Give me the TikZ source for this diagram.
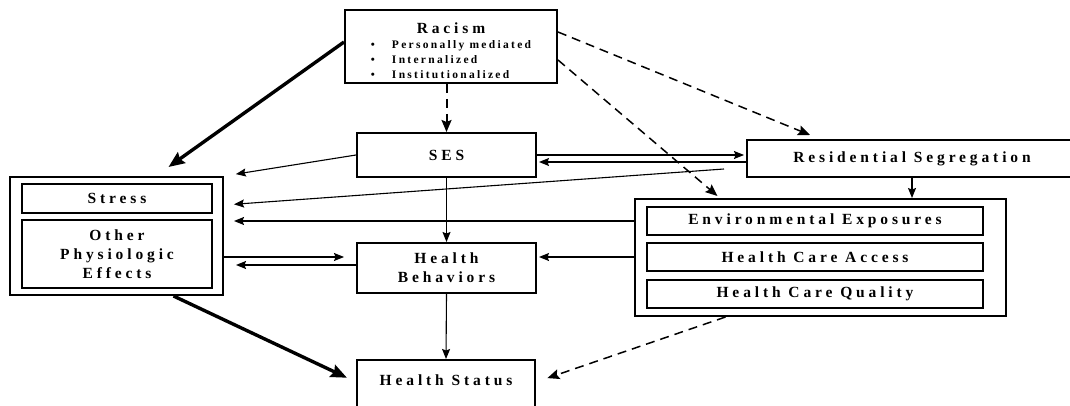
\documentclass[tikz,border=0pt]{standalone}
\usepackage{fontspec}
\setmainfont{Liberation Serif}
\newfontfamily\wide[LetterSpace=25]{Liberation Serif}
\newfontfamily\smallwide[LetterSpace=20]{Liberation Serif}
\usetikzlibrary{arrows.meta}

\begin{document}
\begin{tikzpicture}[x=1pt,y=-1pt,
	lbl/.style={font=\wide\bfseries\fontsize{15.5}{19}\selectfont, align=center},
	box/.style={lbl, draw, line width=2pt, inner sep=0pt},
	inbox/.style={box, line width=1.5pt},
	grp/.style={draw, line width=2pt, inner sep=0pt},
	thinarr/.style={line width=1.1pt, -{Stealth[length=10pt,width=8pt,inset=1.5pt]}},
	thickarr/.style={line width=3.4pt, -{Stealth[length=16pt,width=13pt,inset=2pt]}},
	dasharr/.style={line width=1.5pt, dash pattern=on 9pt off 6pt, -{Stealth[length=12pt,width=10pt,inset=2pt]}}]
	\useasboundingbox (0,0) rectangle (1070,406);
	\clip (0,0) rectangle (1070,406);
	\node[box, minimum width=212pt, minimum height=73pt] (racism) at (451,46.5) {\rule{0pt}{23pt}Racism\\[-4pt]
		\smallwide\fontsize{11.5}{14.5}\selectfont\begin{tabular}[t]{@{}l@{\hspace{17pt}}l@{}}
			\textbullet & Personally mediated\\[0.5pt]
			\textbullet & Internalized\\[0.5pt]
			\textbullet & Institutionalized
		\end{tabular}};
	\node[box, minimum width=179pt, minimum height=44pt] (ses) at (446.5,155) {SES};
	\node[box, minimum width=330pt, minimum height=37pt] (seg) at (912,158.5) {Residential Segregation};
	\node[grp, minimum width=371pt, minimum height=117pt] (env) at (820.5,257.5) {};
	\node[inbox, minimum width=336pt, minimum height=28pt] (ee) at (815,221) {Environmental Exposures};
	\node[inbox, minimum width=336pt, minimum height=28pt] (hca) at (815,257) {Health Care Access};
	\node[inbox, minimum width=336pt, minimum height=28pt] (hcq) at (815,294) {Health Care Quality};
	\node[grp, minimum width=213pt, minimum height=118pt] (left) at (116.5,236) {};
	\node[inbox, minimum width=190pt, minimum height=29pt] (stress) at (117,198.5) {Stress};
	\node[inbox, minimum width=190pt, minimum height=68pt] (other) at (117,254) {Other\\Physiologic\\Effects};
	\node[box, minimum width=179pt, minimum height=50pt] (hb) at (446.5,268) {Health\\Behaviors};
	\node[box, minimum width=178pt, minimum height=56pt, anchor=north] (hs) at (446,359) {};
	\node[lbl] (hstext) at (446,380) {Health Status};

	\draw[thickarr] ([yshift=4.5pt]racism.west) -- ([xshift=52pt,yshift=9pt]left.north);
	\draw[dasharr, line width=2pt] (racism.south -| ses.north) -- (ses.north);
	\draw[dasharr] ([yshift=14.5pt]racism.east) -- ([xshift=-102pt,yshift=4pt]seg.north);
	\draw[dasharr] ([yshift=-13.5pt]racism.east) -- ([xshift=-103pt,yshift=2pt]env.north);
	\draw[thinarr, shorten >=12pt] (ses.west) -- (left.north east);
	\draw[thinarr, shorten >=2pt] ([yshift=3.5pt]seg.west -| ses.east) -- ([yshift=3.5pt]seg.west);
	\draw[thinarr, shorten >=2pt] ([yshift=-3.5pt]seg.west) -- ([yshift=-3.5pt]seg.west -| ses.east);
	\draw[thinarr, shorten >=10pt] ([xshift=-22pt,yshift=-10.5pt]seg.west) -- ([yshift=31pt]left.east);
	\draw[thinarr, shorten >=10pt] (env.west |- ee.west) -- (left.east |- ee.west);
	\draw[thinarr] (ses.south) -- (hb.north);
	\draw[thinarr, shorten >=12pt] (left.east |- hca.west) -- (hb.west |- hca.west);
	\draw[thinarr, shorten >=12pt] ([yshift=3pt]hb.west) -- ([yshift=3pt]hb.west -| left.east);
	\draw[thinarr, shorten >=2pt] (env.west |- hca.west) -- (hb.east |- hca.west);
	\draw[thinarr] (seg.south) -- (seg.south |- env.north);
	\draw[thinarr] (hb.south) -- (hs.north);
	\draw[thickarr, shorten >=10pt] ([xshift=57pt]left.south) -- ([yshift=6pt]hs.west);
	\draw[dasharr, shorten >=12pt] ([xshift=-95pt]env.south) -- ([yshift=6pt]hs.east);
\end{tikzpicture}
\end{document}
